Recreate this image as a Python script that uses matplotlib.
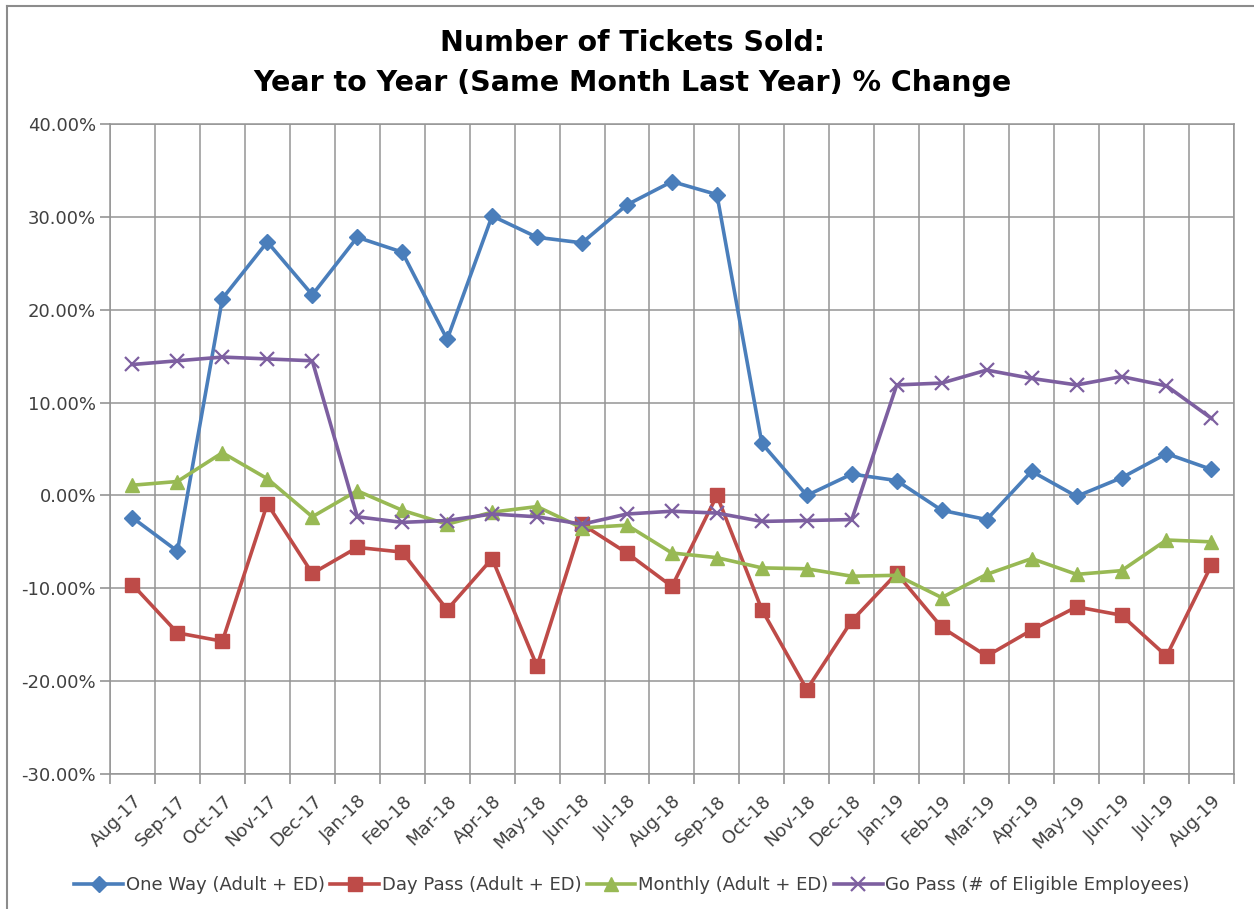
import matplotlib
matplotlib.use('Agg')
import matplotlib.pyplot as plt
import numpy as np
from matplotlib.ticker import FuncFormatter, FixedLocator
from matplotlib.lines import Line2D

# months shown on the x axis
months = ['Aug-17','Sep-17','Oct-17','Nov-17','Dec-17','Jan-18','Feb-18','Mar-18',
          'Apr-18','May-18','Jun-18','Jul-18','Aug-18','Sep-18','Oct-18','Nov-18',
          'Dec-18','Jan-19','Feb-19','Mar-19','Apr-19','May-19','Jun-19','Jul-19','Aug-19']

# year-over-year % change
one_way = [-2.4, -6.0, 21.2, 27.3, 21.6, 27.8, 26.2, 16.8, 30.1, 27.8, 27.2, 31.3, 33.8,
           32.4, 5.6, 0.0, 2.3, 1.6, -1.6, -2.6, 2.6, -0.1, 1.9, 4.5, 2.8]
day_pass = [-9.6, -14.8, -15.7, -0.9, -8.4, -5.6, -6.1, -12.3, -6.8, -18.4, -3.1, -6.2, -9.8,
            0.0, -12.3, -20.9, -13.5, -8.4, -14.2, -17.3, -14.5, -12.0, -12.9, -17.3, -7.5]
monthly = [1.1, 1.5, 4.6, 1.8, -2.3, 0.5, -1.6, -3.1, -1.8, -1.2, -3.5, -3.2, -6.2,
           -6.7, -7.8, -7.9, -8.7, -8.6, -11.0, -8.5, -6.8, -8.5, -8.1, -4.8, -5.0]
go_pass = [14.1, 14.5, 14.9, 14.7, 14.5, -2.3, -2.9, -2.7, -2.0, -2.3, -3.1, -2.0, -1.7,
           -1.9, -2.8, -2.7, -2.6, 11.9, 12.1, 13.5, 12.6, 11.9, 12.8, 11.8, 8.3]

series_names = ['One Way (Adult + ED)', 'Day Pass (Adult + ED)',
                'Monthly (Adult + ED)', 'Go Pass (# of Eligible Employees)']

plt.rcParams['font.family'] = 'DejaVu Sans'
fig = plt.figure(figsize=(12.54, 9.09), dpi=100)
ax = fig.add_axes([0.0877, 0.1485, 0.8963, 0.7151])

x = np.arange(len(months))
ax.plot(x, one_way, color='#4A7EBB', lw=2.6, marker='D', ms=8.5, label=series_names[0])
ax.plot(x, day_pass, color='#BE4B48', lw=2.6, marker='s', ms=10, label=series_names[1])
ax.plot(x, monthly, color='#98B954', lw=2.6, marker='^', ms=10, label=series_names[2])
ax.plot(x, go_pass, color='#7D5FA0', lw=2.6, marker='x', ms=10, mew=1.6, label=series_names[3])

ax.set_xlim(-0.5, len(months) - 0.5)
ax.set_ylim(-30, 40)
ax.set_yticks(np.arange(-30, 41, 10))
ax.yaxis.set_major_formatter(FuncFormatter(lambda v, p: '%.2f%%' % v))

# category boundaries -> gridlines and tick marks, labels at centres
ax.xaxis.set_minor_locator(FixedLocator(np.arange(-0.5, len(months), 1.0)))
ax.set_xticks(x)
ax.set_xticklabels(months, rotation=45, ha='right', va='top', rotation_mode='anchor')
ax.tick_params(axis='x', which='major', length=0, pad=13, labelsize=13, labelcolor='#404040')
ax.tick_params(axis='x', which='minor', length=7, width=1.2, color='#959595')
ax.tick_params(axis='y', length=7, width=1.2, color='#959595', labelsize=13, labelcolor='#404040', pad=3)

ax.grid(True, which='minor', axis='x', color='#959595', lw=1.1)
ax.grid(True, which='major', axis='y', color='#959595', lw=1.1)
ax.set_axisbelow(True)
for s in ax.spines.values():
    s.set_color('#959595')
    s.set_linewidth(1.1)

fig.text(0.504, 0.9527, 'Number of Tickets Sold:', ha='center', va='center',
         fontsize=20.5, fontweight='bold')
fig.text(0.504, 0.9087, 'Year to Year (Same Month Last Year) % Change', ha='center', va='center',
         fontsize=20.5, fontweight='bold')

fig.legend(loc='center', bbox_to_anchor=(0.504, 0.026), ncol=4, frameon=False,
           fontsize=13, handlelength=2.7, handletextpad=0.15, columnspacing=0.3,
           labelcolor='#404040')

# outer chart border (left and top)
fig.add_artist(Line2D([0.0056, 0.0056], [0.0, 0.9934], color='#8c8c8c', lw=1.5))
fig.add_artist(Line2D([0.0056, 1.0], [0.9934, 0.9934], color='#8c8c8c', lw=1.5))

fig.savefig('out.png', dpi=100)
